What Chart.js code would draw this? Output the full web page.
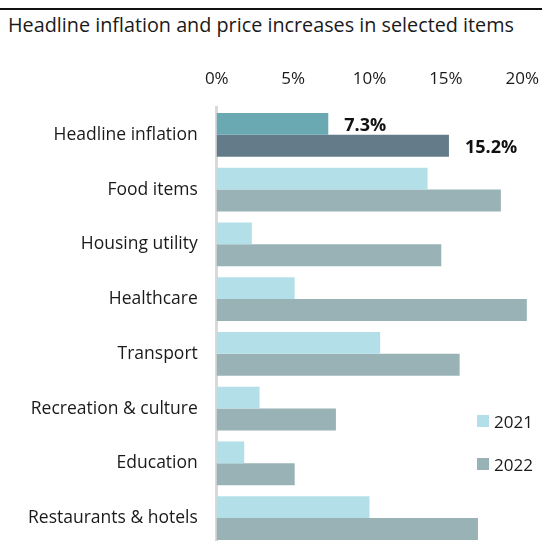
<!DOCTYPE html>
<html>
<head>
<meta charset="utf-8">
<script src="https://cdn.jsdelivr.net/npm/chart.js@4"></script>
<style>
  body { margin: 0; width: 542px; height: 541px; overflow: hidden; background: #fff; font-family: 'Open Sans', sans-serif; }
  .rule { position: absolute; left: 0; top: 8px; width: 542px; height: 2px; background: #111; }
  .title { position: absolute; left: 8px; top: 11px; font-size: 19.8px; color: #1a1a1a; white-space: nowrap; }
  .wrap { position: absolute; left: 0; top: 40px; width: 549px; height: 527px; }
  .legend { position: absolute; left: 477px; top: 410px; font-size: 17px; color: #1a1a1a; }
  .legend div { display: flex; align-items: center; height: 22px; margin-bottom: 21px; }
  .legend span.box { width: 12px; height: 12px; margin-right: 5px; display: inline-block; }
</style>
</head>
<body>
<div class="rule"></div>
<div class="title">Headline inflation and price increases in selected items</div>
<div class="wrap"><canvas id="myChart"></canvas></div>
<div class="legend" id="legend"></div>
<script>
const categories = ['Headline inflation', 'Food items', 'Housing utility', 'Healthcare', 'Transport', 'Recreation & culture', 'Education', 'Restaurants & hotels'];
const values2021 = [7.3, 13.8, 2.3, 5.1, 10.7, 2.8, 1.8, 10.0];
const values2022 = [15.2, 18.6, 14.7, 20.3, 15.9, 7.8, 5.1, 17.1];
const seriesLabels = ['2021', '2022'];
const tickValues = [0, 5, 10, 15, 20];

const color2021 = '#b3e0e8';
const color2022 = '#99b2b5';
const headline2021 = '#6aa8b2';
const headline2022 = '#647c8a';

const barColors = (base, first) => categories.map((c, i) => (i === 0 ? first : base));

// bold value labels on the headline bars only
const headlineLabels = {
  id: 'headlineLabels',
  afterDatasetsDraw(chart) {
    const { ctx } = chart;
    ctx.save();
    ctx.font = 'bold 18px "Open Sans", sans-serif';
    ctx.fillStyle = '#111';
    ctx.textBaseline = 'middle';
    chart.data.datasets.forEach((ds, d) => {
      const bar = chart.getDatasetMeta(d).data[0];
      ctx.fillText(ds.data[0].toFixed(1) + '%', bar.x + 16, bar.y + 2);
    });
    ctx.restore();
  },
};

/* eslint-disable */
const chart = new Chart('myChart', {
  /* eslint-enable */
  type: 'bar',
  data: {
    labels: categories,
    datasets: [
      { label: seriesLabels[0], data: values2021, backgroundColor: barColors(color2021, headline2021), clip: false },
      { label: seriesLabels[1], data: values2022, backgroundColor: barColors(color2022, headline2022), clip: false },
    ],
  },
  options: {
    indexAxis: 'y',
    responsive: true,
    maintainAspectRatio: false,
    animation: false,
    layout: { padding: { top: 19, right: 16, bottom: 0, left: 17 } },
    plugins: { legend: { display: false }, tooltip: { enabled: false } },
    datasets: { bar: { categoryPercentage: 0.8, barPercentage: 1.0 } },
    scales: {
      x: {
        position: 'top',
        min: 0,
        max: 20,
        afterBuildTicks: (axis) => { axis.ticks = tickValues.map((v) => ({ value: v })); },
        grid: { display: false },
        border: { display: false },
        ticks: { callback: (v) => v + '%', color: '#1a1a1a', font: { family: 'Open Sans', size: 17 }, padding: 10 },
      },
      y: {
        grid: { display: false },
        border: { display: true, color: '#d9d9d9', width: 3 },
        ticks: { color: '#1a1a1a', font: { family: 'Open Sans', size: 17.5 }, padding: 11 },
      },
    },
  },
  plugins: [headlineLabels],
});

document.getElementById('legend').innerHTML = seriesLabels
  .map((s, i) => `<div><span class="box" style="background:${i === 0 ? color2021 : color2022}"></span>${s}</div>`)
  .join('');
</script>
</body>
</html>
